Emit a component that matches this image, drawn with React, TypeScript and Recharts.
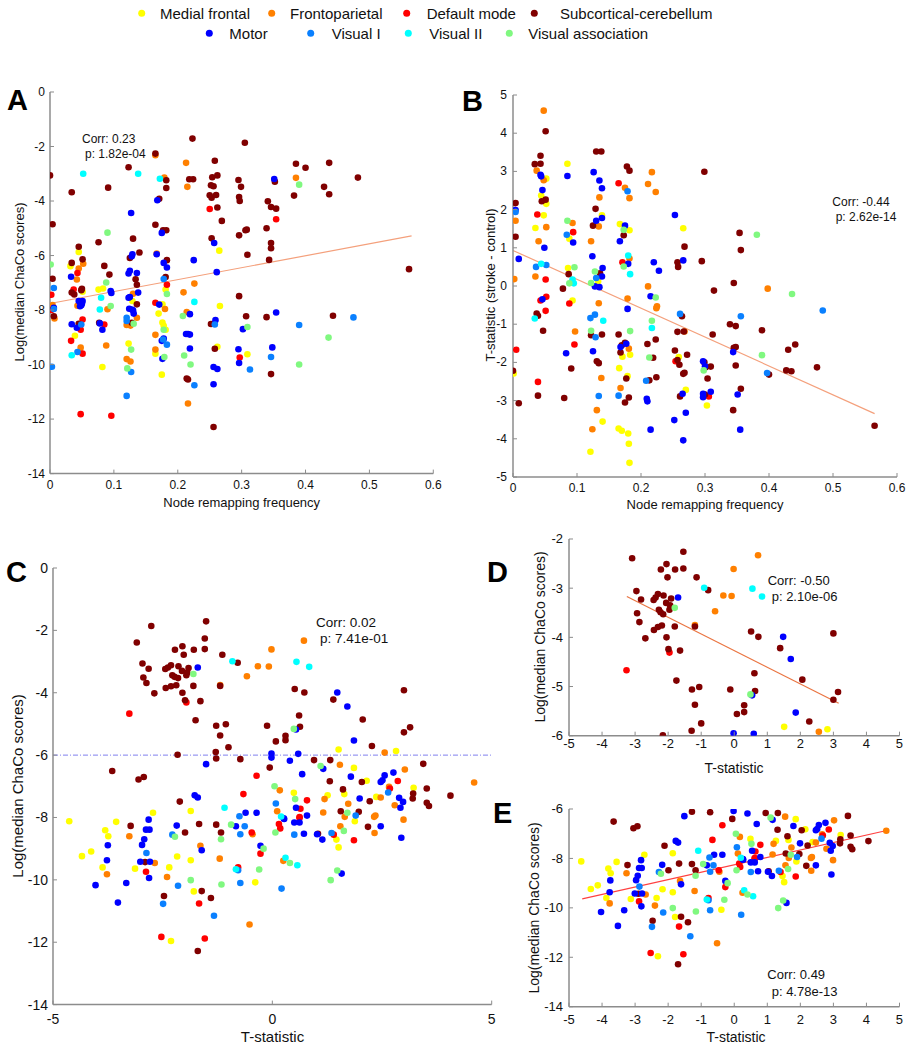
import React from 'react';
import { ScatterChart, Scatter, XAxis, YAxis, ReferenceLine } from 'recharts';

type Pt = [number, number];

const NETWORKS = ['Medial frontal', 'Frontoparietal', 'Default mode', 'Subcortical-cerebellum', 'Motor', 'Visual I', 'Visual II', 'Visual association'];
const COLORS = ['#ffff00', '#ff8000', '#ff0000', '#800000', '#0000ff', '#0a80ff', '#00ffff', '#80f880'];

// ---------- Panel A : node remapping frequency vs log(median ChaCo) ----------
const aMedialFrontal: Pt[] = [[0.045,-5.87],[0.032,-6.39],[0.051,-7.33],[0.076,-7.25],[0.083,-7.21],[0.129,-7.67],[0.181,-7.25],[0.176,-7.79],[0.265,-5.82],[0.266,-7.85],[0.039,-8.94],[0.082,-10.09],[0.123,-9.23],[0.17,-8.13],[0.176,-8.46],[0.178,-8.58],[0.181,-8.72],[0.165,-9.6],[0.175,-10.37],[0.262,-9.35],[0.309,-9.62]];
const aFrontoparietal: Pt[] = [[0.165,-2.32],[0.213,-2.6],[0.179,-3.14],[0.215,-3.48],[0.385,-3.15],[0.052,-6.3],[0.045,-6.48],[0.042,-6.88],[0.043,-7.84],[0.004,-7.82],[0.09,-7.97],[0.13,-7.4],[0.167,-5.93],[0.18,-7.96],[0.226,-7.03],[0.209,-7.35],[0.007,-8.31],[0.048,-9.38],[0.088,-9.3],[0.12,-8.55],[0.126,-8.57],[0.136,-8.28],[0.12,-9.8],[0.126,-9.89],[0.165,-8.91],[0.165,-9.45],[0.214,-8.07],[0.216,-11.43]];
const aDefaultMode: Pt[] = [[0.25,-4.29],[0.354,-4.67],[0.043,-6.64],[0.037,-7.25],[0.002,-7.44],[0.002,-8.0],[0.183,-7.07],[0.165,-7.73],[0.048,-8.72],[0.051,-8.35],[0.033,-9.13],[0.051,-9.6],[0.048,-11.82],[0.085,-8.53],[0.096,-11.88],[0.297,-9.74]];
const aSubcortical: Pt[] = [[0,-3.06],[0.004,-4.85],[0.034,-3.68],[0.091,-3.51],[0.123,-2.76],[0.165,-2.26],[0.223,-1.71],[0.305,-1.86],[0.258,-2.52],[0.385,-2.63],[0.4,-2.78],[0.437,-2.6],[0.182,-3.24],[0.182,-3.52],[0.218,-3.2],[0.224,-3.2],[0.254,-3.13],[0.262,-3.06],[0.252,-3.42],[0.256,-3.46],[0.25,-3.79],[0.253,-3.88],[0.26,-3.78],[0.262,-4.24],[0.269,-4.73],[0.295,-3.23],[0.299,-3.48],[0.296,-3.85],[0.297,-4.0],[0.352,-3.29],[0.382,-3.8],[0.429,-3.48],[0.437,-3.75],[0.482,-3.14],[0.341,-4.01],[0.346,-4.22],[0.354,-4.28],[0.171,-3.92],[0.165,-4.87],[0.177,-5.07],[0.182,-5.07],[0.13,-5.38],[0.253,-5.37],[0.296,-5.26],[0.306,-5.07],[0.308,-5.05],[0.339,-5.0],[0.346,-5.54],[0.346,-5.73],[0.309,-5.97],[0.343,-6.16],[0.076,-5.51],[0.045,-5.68],[0.034,-6.27],[0.051,-6.14],[0.004,-6.85],[0.034,-7.36],[0.038,-7.43],[0.049,-7.27],[0.05,-7.22],[0.085,-6.38],[0.093,-6.7],[0.125,-6.09],[0.14,-5.89],[0.134,-6.87],[0.136,-7.07],[0.136,-7.79],[0.183,-6.17],[0.181,-6.79],[0.296,-7.49],[0.006,-8.23],[0.045,-8.5],[0.077,-8.47],[0.128,-8.47],[0.214,-10.51],[0.216,-10.55],[0.252,-8.51],[0.258,-9.42],[0.256,-12.29],[0.307,-8.23],[0.339,-8.26],[0.346,-10.35],[0.443,-8.21],[0.562,-6.5]];
const aMotor: Pt[] = [[0.351,-3.19],[0.168,-3.97],[0.127,-4.44],[0.175,-5.17],[0.257,-5.54],[0.033,-6.78],[0.045,-7.67],[0.051,-7.67],[0.049,-7.82],[0.006,-7.92],[0.095,-7.3],[0.096,-7.37],[0.128,-6.03],[0.129,-5.95],[0.123,-6.66],[0.125,-6.56],[0.136,-6.64],[0.138,-7.36],[0.125,-7.52],[0.123,-7.55],[0.124,-7.95],[0.128,-7.98],[0.167,-5.95],[0.178,-6.27],[0.183,-6.44],[0.171,-7.8],[0.225,-6.17],[0.261,-6.61],[0.034,-8.52],[0.042,-8.65],[0.047,-7.86],[0.05,-7.76],[0.078,-8.49],[0.082,-8.72],[0.13,-8.01],[0.131,-8.13],[0.175,-9.13],[0.178,-9.05],[0.176,-9.79],[0.219,-8.15],[0.213,-8.88],[0.216,-8.88],[0.219,-8.9],[0.219,-9.41],[0.259,-8.37],[0.256,-10.09],[0.262,-10.16],[0.256,-10.72],[0.302,-8.7],[0.295,-9.44],[0.296,-9.94],[0.354,-8.09],[0.348,-9.37]];
const aVisual1: Pt[] = [[0.006,-7.19],[0.178,-6.86],[0.003,-10.08],[0.049,-8.53],[0.043,-9.54],[0.12,-8.28],[0.12,-8.4],[0.127,-10.27],[0.12,-11.15],[0.177,-9.08],[0.183,-9.27],[0.226,-10.76],[0.258,-8.53],[0.313,-10.18],[0.39,-8.55],[0.346,-9.72],[0.475,-8.27],[0.006,-7.96]];
const aVisual2: Pt[] = [[0.052,-3.0],[0.138,-3.0],[0.172,-3.18],[0.08,-7.55],[0.078,-7.98],[0.226,-7.7],[0.034,-9.66]];
const aVisualAssoc: Pt[] = [[0.39,-3.4],[0.09,-5.16],[0.001,-6.33],[0.088,-6.99],[0.095,-7.85],[0.183,-7.41],[0.131,-8.5],[0.127,-9.45],[0.121,-10.14],[0.178,-8.72],[0.179,-9.72],[0.208,-8.22],[0.21,-9.67],[0.22,-10.0],[0.309,-8.62],[0.39,-10.0],[0.436,-9.01]];
const aFit: Pt[] = [[0, -7.76], [0.566, -5.28]];

// ---------- Panel B : node remapping frequency vs T-statistic ----------
const bMedialFrontal: Pt[] = [[0.052,2.81],[0.044,2.37],[0.052,2.15],[0.048,1.85],[0.035,1.52],[0.085,3.2],[0.088,1.24],[0.086,0.47],[0.093,-0.38],[0.139,1.85],[0.133,0.12],[0.167,1.62],[0.182,1.46],[0.266,1.51],[0.001,-2.29],[0.14,-3.55],[0.121,-4.34],[0.171,-1.85],[0.183,-1.8],[0.166,-2.15],[0.179,-2.36],[0.165,-3.73],[0.17,-3.79],[0.18,-3.86],[0.181,-4.13],[0.182,-4.63],[0.259,-1.86],[0.27,-2.72],[0.303,-3.13]];
const bFrontoparietal: Pt[] = [[0.048,4.59],[0.037,3.02],[0.048,2.77],[0.052,1.54],[0.04,1.17],[0.035,0.25],[0.004,1.71],[0.002,0.18],[0.093,1.65],[0.135,2.32],[0.134,1.56],[0.122,1.17],[0.134,-0.45],[0.175,2.57],[0.182,2.3],[0.182,0.72],[0.179,-0.33],[0.217,2.98],[0.211,2.67],[0.223,2.46],[0.211,-0.01],[0.225,-0.53],[0.224,-0.58],[0.398,-0.07],[0.097,-1.19],[0.138,-2.41],[0.131,-3.25],[0.124,-3.75],[0.181,-1.64],[0.168,-2.67],[0.268,-1.19]];
const bDefaultMode: Pt[] = [[0.038,1.87],[0.051,0.17],[0.052,-0.28],[0.043,-0.38],[0.051,-0.65],[0.094,1.41],[0.088,-0.46],[0.165,2.69],[0.171,0.62],[0.005,-1.67],[0.039,-2.51],[0.096,-1.53],[0.254,-1.97],[0.306,-2.89]];
const bSubcortical: Pt[] = [[0.051,4.05],[0.043,3.41],[0.034,3.19],[0.043,3.2],[0.045,2.22],[0.051,2.26],[0.004,2.17],[0.004,1.29],[0.037,-0.72],[0.039,-0.78],[0.087,0.31],[0.078,-0.07],[0.13,3.52],[0.138,3.52],[0.129,2.02],[0.125,1.58],[0.136,0.33],[0.178,3.13],[0.182,3.02],[0.173,1.33],[0.268,1.03],[0.257,0.62],[0.258,0.5],[0.299,2.99],[0.295,0.65],[0.264,-0.79],[0.314,-0.12],[0.345,0.08],[0.354,1.39],[0.356,0.94],[0.047,-1.17],[0,-2.22],[0.009,-3.07],[0.039,-2.87],[0.08,-2.93],[0.091,-2.16],[0.122,-1.29],[0.139,-1.27],[0.131,-1.97],[0.134,-2.02],[0.165,-1.27],[0.175,-1.49],[0.17,-1.55],[0.168,-1.74],[0.177,-2.42],[0.181,-2.92],[0.175,-3.05],[0.257,-1.2],[0.267,-1.19],[0.223,-1.4],[0.21,-1.52],[0.253,-1.69],[0.219,-1.88],[0.257,-1.94],[0.26,-2.06],[0.268,-2.27],[0.266,-2.3],[0.213,-2.47],[0.224,-2.39],[0.261,-2.89],[0.272,-1.8],[0.299,-2.0],[0.301,-2.13],[0.309,-2.11],[0.304,-2.42],[0.3,-2.84],[0.312,-1.27],[0.339,-1.0],[0.348,-1.05],[0.345,-1.62],[0.348,-1.6],[0.348,-2.08],[0.356,-2.69],[0.344,-3.25],[0.389,-1.16],[0.4,-2.32],[0.427,-2.21],[0.435,-2.23],[0.43,-1.67],[0.441,-1.53],[0.475,-2.13],[0.565,-3.66]];
const bMotor: Pt[] = [[0.043,2.91],[0.044,2.87],[0.046,2.51],[0.049,1.0],[0.004,1.99],[0.009,0.71],[0.046,-0.35],[0.085,2.88],[0.094,1.14],[0.126,2.98],[0.135,2.76],[0.139,2.56],[0.139,1.78],[0.13,1.71],[0.124,0.78],[0.14,0.47],[0.139,0.25],[0.128,-0.01],[0.135,-0.03],[0.175,1.58],[0.167,1.17],[0.18,0.58],[0.179,-0.6],[0.22,0.62],[0.228,0.4],[0.215,-0.27],[0.253,1.86],[0.266,0.67],[0.083,-1.76],[0.125,-1.71],[0.168,-1.6],[0.177,-1.51],[0.209,-2.95],[0.21,-3.02],[0.265,-2.82],[0.27,-3.32],[0.252,-3.51],[0.215,-3.76],[0.266,-4.04],[0.297,-1.97],[0.3,-2.1],[0.297,-2.82],[0.297,-2.91],[0.309,-2.77],[0.344,-1.73],[0.351,-2.84],[0.355,-3.76]];
const bVisual1: Pt[] = [[0.004,1.94],[0.036,0.5],[0.052,0.55],[0.084,1.34],[0.13,0.21],[0.128,-0.75],[0.121,-0.84],[0.179,2.48],[0.261,-0.73],[0.356,-0.79],[0.484,-0.64],[0.129,-1.34],[0.134,-2.88],[0.208,-2.48],[0.165,-2.87],[0.397,-2.28]];
const bVisual2: Pt[] = [[0.044,0.58],[0.034,-0.85],[0.095,0.07],[0.093,0.17],[0.141,-0.91],[0.18,0.8],[0.183,0.31],[0.217,-1.1]];
const bVisualAssoc: Pt[] = [[0.085,1.71],[0.096,0.49],[0.088,0.07],[0.128,0.38],[0.122,0.08],[0.173,1.47],[0.173,0.51],[0.223,-0.3],[0.217,-0.91],[0.381,1.34],[0.436,-0.21],[0.122,-1.17],[0.183,-1.18],[0.213,-1.87],[0.298,-2.21],[0.389,-1.81]];
const bFit: Pt[] = [[0, 0.93], [0.565, -3.34]];

// ---------- Panel C : T-statistic vs log(median ChaCo) (D and E are its two halves) ----------
const cMedialFrontal: Pt[] = [[1.51,-5.82],[2.82,-5.87],[1.86,-6.41],[0.49,-7.21],[1.64,-7.25],[1.26,-7.29],[2.15,-6.82],[2.37,-7.34],[3.22,-7.05],[-1.86,-7.79],[-2.72,-7.85],[-4.63,-8.12],[-4.34,-9.24],[-4.13,-9.09],[-3.81,-8.41],[-3.74,-8.6],[-3.56,-8.14],[-3.87,-9.6],[-3.13,-9.64],[-2.35,-9.6],[-2.17,-9.25],[-1.86,-9.37],[-1.79,-10.37],[-2.31,-11.96],[-0.39,-10.08],[1.46,-8.71],[1.51,-8.96],[1.88,-8.12]];
const cFrontoparietal: Pt[] = [[0.72,-2.33],[-0.02,-2.61],[-0.33,-3.15],[-0.08,-3.16],[-0.58,-3.47],[-1.19,-3.75],[2.56,-5.92],[1.54,-6.31],[3.02,-6.46],[4.6,-6.88],[0.17,-7.13],[1.19,-7.41],[2.47,-7.36],[2.66,-7.02],[2.79,-7.61],[1.73,-7.56],[2.35,-7.94],[2.32,-7.98],[1.65,-7.98],[1.16,-7.84],[0.11,-7.8],[-3.77,-9.82],[-3.26,-8.6],[-2.68,-9.46],[-2.4,-9.91],[-1.64,-8.91],[-1.2,-9.32],[-0.45,-8.54],[-0.52,-11.43],[0.25,-9.39],[1.55,-8.28],[2.33,-8.5],[2.99,-8.07]];
const cDefaultMode: Pt[] = [[-1.96,-4.31],[-3.26,-4.67],[-0.36,-6.66],[0.79,-7.45],[2.86,-6.83],[2.68,-7.07],[0.64,-7.72],[0.62,-7.99],[-0.66,-7.25],[-2.88,-9.74],[-1.67,-10.76],[-2.53,-11.83],[-1.54,-11.88],[-0.78,-9.6],[-0.47,-8.48],[-0.27,-9.16],[0.15,-8.21],[0.18,-8.35],[0.62,-8.01],[1.4,-8.55],[1.86,-8.73]];
const cSubcortical: Pt[] = [[-1.51,-1.71],[-2.76,-1.86],[-3.09,-2.39],[-1.54,-2.26],[-1.54,-2.6],[-2.05,-2.51],[-2.22,-2.62],[-2.02,-2.78],[-1.79,-2.62],[-1.14,-2.78],[-0.79,-3.04],[-2.96,-3.06],[-2.82,-3.23],[-2.94,-3.51],[-2.87,-3.69],[-2.69,-4.02],[-2.44,-3.24],[-2.38,-3.19],[-2.31,-3.12],[-2.14,-3.15],[-2.06,-3.3],[-1.91,-3.21],[-2.28,-3.44],[-2.23,-3.49],[-2.15,-3.53],[-1.96,-3.44],[-1.94,-3.35],[-2.43,-3.85],[-2.31,-3.79],[-2.19,-3.76],[-1.8,-3.78],[-2.05,-4.0],[-1.19,-3.78],[-1.99,-4.24],[-1.64,-4.27],[-1.75,-4.88],[-1.28,-5.06],[-1.06,-5.01],[-1.19,-5.37],[-1.0,-5.75],[-1.29,-5.9],[-1.28,-6.11],[-2.16,-5.99],[-0.73,-6.13],[-0.12,-5.06],[0.08,-5.56],[0.3,-5.38],[0.3,-5.52],[0.51,-3.88],[0.73,-3.99],[0.61,-4.73],[0.63,-5.09],[1.39,-4.22],[2.06,-4.86],[3.0,-3.92],[3.0,-5.27],[3.14,-5.11],[2.27,-5.71],[0.95,-6.16],[1.32,-6.16],[-3.65,-6.51],[-3.05,-6.78],[-2.93,-6.7],[-0.06,-6.4],[1.31,-6.84],[3.44,-6.28],[2.04,-6.86],[1.61,-7.1],[2.22,-7.48],[3.21,-7.23],[3.2,-7.39],[3.52,-7.07],[3.52,-7.53],[3.57,-7.63],[4.06,-7.3],[1.56,-7.8],[1.97,-7.82],[-2.11,-7.49],[-3.23,-8.27],[-2.9,-9.43],[-1.99,-8.48],[-2.47,-10.52],[-1.67,-8.21],[-1.61,-10.36],[-1.4,-10.58],[-1.7,-12.28],[-1.28,-8.23],[-1.17,-8.48],[1.04,-8.52],[2.18,-8.3]];
const cMotor: Pt[] = [[-1.7,-3.19],[1.48,-3.99],[1.71,-4.44],[0.54,-5.18],[1.86,-5.53],[-0.02,-5.95],[-0.02,-6.08],[0.59,-5.96],[0.4,-6.18],[-1.51,-6.29],[0.68,-6.61],[1.16,-6.44],[1.79,-6.69],[2.76,-6.56],[2.56,-6.65],[2.51,-6.81],[2.47,-6.86],[1.99,-7.39],[2.89,-7.37],[2.98,-7.5],[2.92,-7.69],[0.79,-7.94],[0.54,-7.69],[0.26,-8.03],[-1.77,-7.29],[-1.7,-7.36],[-0.61,-7.85],[-0.36,-7.85],[-2.82,-8.07],[-3.75,-8.89],[-3.77,-9.37],[-4.03,-10.17],[-3.33,-10.1],[-3.52,-10.73],[-2.8,-8.39],[-2.88,-8.39],[-2.92,-8.7],[-2.97,-8.88],[-3.01,-9.42],[-2.79,-9.42],[-2.81,-9.94],[-2.18,-8.26],[-1.61,-9.05],[-0.83,-8.28],[-0.27,-8.91],[0.27,-8.05],[0.5,-8.16],[0.62,-8.16],[0.72,-8.52],[1.02,-8.54],[1.14,-8.71],[1.58,-9.8],[2.47,-8.28],[2.94,-8.65]];
const cVisual1: Pt[] = [[2.64,-7.2],[1.9,-7.94],[0.08,-7.55],[-0.75,-7.96],[-2.87,-9.14],[-2.28,-8.55],[-2.15,-10.19],[-2.49,-10.77],[-1.33,-11.15],[-0.78,-9.69],[-0.63,-8.28],[-0.73,-8.54],[-0.73,-10.1],[0.21,-10.28],[0.5,-8.55],[1.35,-8.5]];
const cVisual2: Pt[] = [[-0.91,-2.99],[0.55,-3.01],[0.84,-3.17],[-1.09,-7.69],[0.2,-7.97],[-0.83,-9.66],[0.3,-9.29],[0.57,-9.53]];
const cVisualAssoc: Pt[] = [[-1.8,-3.4],[0.49,-5.16],[1.1,-6.35],[0.05,-7.0],[0.52,-7.41],[1.71,-7.85],[-2.22,-8.62],[-1.86,-10.01],[-1.17,-8.7],[-0.94,-8.23],[-1.16,-10.15],[-0.2,-9.0],[-0.3,-9.67],[0.07,-8.48],[0.4,-9.46],[1.63,-8.43],[1.48,-9.7],[1.33,-10.01]];
const CHACO_THRESHOLD = -6;
const dFit: Pt[] = [[-3.25, -3.17], [3.16, -5.34]];
const eFit: Pt[] = [[-4.6, -9.64], [4.68, -6.85]];

// ---------- ticks & annotations ----------
const freqTicks = [0, 0.1, 0.2, 0.3, 0.4, 0.5, 0.6];
const chacoTicks = [-14, -12, -10, -8, -6, -4, -2, 0];
const tstatTicksB = [-5, -4, -3, -2, -1, 0, 1, 2, 3, 4, 5];
const tTicksC = [-5, 0, 5];
const tTicksDE = [-5, -4, -3, -2, -1, 0, 1, 2, 3, 4, 5];
const chacoTicksD = [-6, -5, -4, -3, -2];
const chacoTicksE = [-14, -12, -10, -8, -6];
const corrA = ['Corr: 0.23', 'p: 1.82e-04'];
const corrB = ['Corr: -0.44', 'p: 2.62e-14'];
const corrC = ['Corr: 0.02', 'p: 7.41e-01'];
const corrD = ['Corr: -0.50', 'p: 2.10e-06'];
const corrE = ['Corr: 0.49', 'p: 4.78e-13'];

const FONT = '"Liberation Sans", Arial, Helvetica, sans-serif';
const AXIS = '#8c8c8c';
const fmt = (v: number) => String(Math.round(v * 10) / 10);

type PanelProps = {
  x0: number; y0: number; x1: number; y1: number;
  xDomain: [number, number]; yDomain: [number, number];
  xTicks: number[]; yTicks: number[];
  series: Pt[][];
  fs: number; xGap: number; yGap: number;
  fit?: Pt[]; fitColor?: string; hline?: number;
};

function Panel(p: PanelProps) {
  const W = p.x1 - p.x0 + 70;
  const H = p.y1 - p.y0 + 40;
  const xTick = (t: any) => (
    <g>
      <line x1={t.x} y1={t.y} x2={t.x} y2={t.y - 4} stroke={AXIS} strokeWidth={1} />
      <text x={t.x} y={t.y + p.xGap} textAnchor="middle" dominantBaseline="central" fontSize={p.fs} fill="#111" fontFamily={FONT}>{fmt(t.payload.value)}</text>
    </g>
  );
  const yTick = (t: any) => (
    <g>
      <line x1={t.x} y1={t.y} x2={t.x + 4} y2={t.y} stroke={AXIS} strokeWidth={1} />
      <text x={t.x - p.yGap} y={t.y} textAnchor="end" dominantBaseline="central" fontSize={p.fs} fill="#111" fontFamily={FONT}>{fmt(t.payload.value)}</text>
    </g>
  );
  const dot = (s: any) => <circle cx={s.cx} cy={s.cy} r={3.3} fill={s.fill} />;
  return (
    <div style={{ position: 'absolute', left: p.x0 - 60, top: p.y0 - 10 }}>
      <ScatterChart width={W} height={H} margin={{ top: 10, right: 10, bottom: 0, left: 0 }}>
        <XAxis type="number" dataKey="x" domain={p.xDomain} ticks={p.xTicks} interval={0} height={30}
          tickSize={0} tickMargin={0} tickLine={false} allowDataOverflow
          axisLine={{ stroke: AXIS, strokeWidth: 1.5 }} tick={xTick} />
        <YAxis type="number" dataKey="y" domain={p.yDomain} ticks={p.yTicks} interval={0} width={60}
          tickSize={0} tickMargin={0} tickLine={false} allowDataOverflow
          axisLine={{ stroke: AXIS, strokeWidth: 1.5 }} tick={yTick} />
        {p.hline !== undefined && (
          <ReferenceLine y={p.hline} stroke="#8080ee" strokeWidth={1} strokeDasharray="5 2 1 2" />
        )}
        {p.series.map((pts, i) => (
          <Scatter key={NETWORKS[i]} name={NETWORKS[i]} data={pts.map(([x, y]) => ({ x, y }))}
            fill={COLORS[i]} shape={dot} isAnimationActive={false} />
        ))}
        {p.fit && (
          <ReferenceLine segment={[{ x: p.fit[0][0], y: p.fit[0][1] }, { x: p.fit[1][0], y: p.fit[1][1] }]}
            stroke={p.fitColor} strokeWidth={1.2} ifOverflow="visible" />
        )}
      </ScatterChart>
    </div>
  );
}

const legendItems = [
  { i: 0, cx: 141.7, tx: 160, row: 0 },
  { i: 1, cx: 271.7, tx: 290, row: 0 },
  { i: 2, cx: 406.7, tx: 426.7, row: 0 },
  { i: 3, cx: 534.3, tx: 560, row: 0 },
  { i: 4, cx: 209.3, tx: 229.3, row: 1 },
  { i: 5, cx: 310.7, tx: 331.7, row: 1 },
  { i: 6, cx: 408.3, tx: 429.3, row: 1 },
  { i: 7, cx: 509.3, tx: 528.3, row: 1 },
];

export default function App() {
  const seriesA = [aMedialFrontal, aFrontoparietal, aDefaultMode, aSubcortical, aMotor, aVisual1, aVisual2, aVisualAssoc];
  const seriesB = [bMedialFrontal, bFrontoparietal, bDefaultMode, bSubcortical, bMotor, bVisual1, bVisual2, bVisualAssoc];
  const seriesC = [cMedialFrontal, cFrontoparietal, cDefaultMode, cSubcortical, cMotor, cVisual1, cVisual2, cVisualAssoc];
  const seriesD = seriesC.map((s) => s.filter(([, y]) => y >= CHACO_THRESHOLD));
  const seriesE = seriesC.map((s) => s.filter(([, y]) => y < CHACO_THRESHOLD));

  const T = (x: number, y: number, s: string, fs: number, extra: any = {}) => (
    <text x={x} y={y} fontSize={fs} fontFamily={FONT} fill="#111" dominantBaseline="central" {...extra}>{s}</text>
  );
  const Letter = (x: number, y: number, s: string) => (
    <text x={x} y={y} fontSize={29} fontWeight="bold" fontFamily={FONT} fill="#000">{s}</text>
  );
  const VLabel = (x: number, y: number, s: string, fs: number) => (
    <text x={x} y={y} fontSize={fs} fontFamily={FONT} fill="#111" textAnchor="middle" dominantBaseline="central" transform={`rotate(-90 ${x} ${y})`}>{s}</text>
  );

  return (
    <div style={{ position: 'absolute', left: 0, top: 0, width: 911, height: 1049, background: '#fff', overflow: 'hidden', fontFamily: FONT }}>
      <Panel x0={50} y0={91.7} x1={433.3} y1={473.3} xDomain={[0, 0.6]} yDomain={[-14, 0]} xTicks={freqTicks} yTicks={chacoTicks}
        series={seriesA} fs={12} xGap={11} yGap={5} fit={aFit} fitColor="#f4a07c" />
      <Panel x0={512.7} x1={896.7} y0={94.7} y1={476.7} xDomain={[0, 0.6]} yDomain={[-5, 5]} xTicks={freqTicks} yTicks={tstatTicksB}
        series={seriesB} fs={12} xGap={11} yGap={6} fit={bFit} fitColor="#f4a07c" />
      <Panel x0={53} x1={491.7} y0={567.7} y1={1004.3} xDomain={[-5, 5]} yDomain={[-14, 0]} xTicks={tTicksC} yTicks={chacoTicks}
        series={seriesC} fs={14} xGap={14} yGap={5} hline={CHACO_THRESHOLD} />
      <Panel x0={568.5} x1={899} y0={539} y1={735.7} xDomain={[-5, 5]} yDomain={[-6, -2]} xTicks={tTicksDE} yTicks={chacoTicksD}
        series={seriesD} fs={13} xGap={8} yGap={6} fit={dFit} fitColor="#ea7440" />
      <Panel x0={568.5} x1={899} y0={809} y1={1006.7} xDomain={[-5, 5]} yDomain={[-14, -6]} xTicks={tTicksDE} yTicks={chacoTicksE}
        series={seriesE} fs={13} xGap={13} yGap={6} fit={eFit} fitColor="#ff4040" />

      <svg width={911} height={1049} style={{ position: 'absolute', left: 0, top: 0, pointerEvents: 'none' }}>
        {legendItems.map((it) => (
          <g key={it.i}>
            <circle cx={it.cx} cy={it.row === 0 ? 13.3 : 33.3} r={3.5} fill={COLORS[it.i]} />
            {T(it.tx, it.row === 0 ? 13.3 : 33.3, NETWORKS[it.i], 15)}
          </g>
        ))}
        {Letter(7, 110, 'A')}
        {Letter(462, 111, 'B')}
        {Letter(6, 582, 'C')}
        {Letter(487, 582, 'D')}
        {Letter(493, 823, 'E')}

        {T(82, 139.3, corrA[0], 12)}
        {T(85, 154, corrA[1], 12)}
        {T(832.3, 202, corrB[0], 12)}
        {T(835.7, 217, corrB[1], 12)}
        {T(316, 622, corrC[0], 13.5)}
        {T(320, 638.7, corrC[1], 13.5)}
        {T(767.7, 580.7, corrD[0], 13)}
        {T(771.7, 596, corrD[1], 13)}
        {T(767.3, 974, corrE[0], 13)}
        {T(771.7, 991, corrE[1], 13)}

        {T(241.7, 502, 'Node remapping frequency', 13, { textAnchor: 'middle' })}
        {T(705, 504, 'Node remapping frequency', 13, { textAnchor: 'middle' })}
        {T(272.5, 1036, 'T-statistic', 15, { textAnchor: 'middle' })}
        {T(734, 767.7, 'T-statistic', 14, { textAnchor: 'middle' })}
        {T(736, 1037, 'T-statistic', 14, { textAnchor: 'middle' })}

        {VLabel(19, 282, 'Log(median ChaCo scores)', 13)}
        {VLabel(490, 285, 'T-statistic (stroke - control)', 13)}
        {VLabel(17, 786, 'Log(median ChaCo scores)', 15)}
        {VLabel(540, 637, 'Log(median ChaCo scores)', 14)}
        {VLabel(534, 908, 'Log(median ChaCo scores)', 14)}
      </svg>
    </div>
  );
}
